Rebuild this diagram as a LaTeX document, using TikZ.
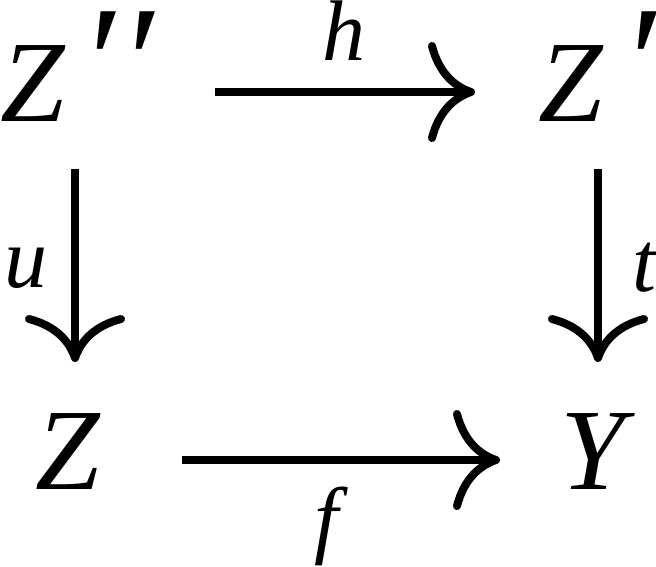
\documentclass[tikz,border=0pt]{standalone}
\usepackage{fontspec}
\setmainfont{Liberation Serif}[ItalicFont={Liberation Serif Italic}]
\usetikzlibrary{arrows.meta}
\newcommand{\bigprime}{\raisebox{5pt}{\fontsize{160}{160}\selectfont′}}
\begin{document}
\begin{tikzpicture}[x=1pt,y=-1pt,
  obj/.style={inner sep=0pt, anchor=base west, font=\fontsize{116}{116}\selectfont\itshape},
  lbl/.style={inner sep=0pt, anchor=base west, font=\fontsize{86}{86}\selectfont\itshape},
  arr/.style={line width=8pt, -{Computer Modern Rightarrow[length=47pt, width=100pt, line width=8pt]}}]
\useasboundingbox (0,0) rectangle (656,566);
\node[obj] (Zpp) at (0,121) {Z\kern15pt\bigprime\kern4pt\bigprime};
\node[obj] (Zp) at (538,121) {Z\kern18pt\bigprime};
\node[obj] (Z) at (35,489) {Z};
\node[obj] (Y) at (560,489) {Y};
\node[lbl] (h) at (322,60) {h};
\node[lbl] (u) at (4,287) {u};
\node[lbl] (t) at (632,291) {t};
\node[lbl] (f) at (314,547) {f};
\draw[arr] ([shift={(215pt,29pt)}]Zpp.base west) -- ([shift={(-63pt,29pt)}]Zp.base west);
\draw[arr] ([shift={(147pt,29pt)}]Z.base west) -- ([shift={(-60pt,29pt)}]Y.base west);
\draw[arr] ([shift={(75pt,-48pt)}]Zpp.base west) -- ([shift={(40pt,127pt)}]Z.base west);
\draw[arr] ([shift={(60pt,-48pt)}]Zp.base west) -- ([shift={(38pt,127pt)}]Y.base west);
\end{tikzpicture}
\end{document}
